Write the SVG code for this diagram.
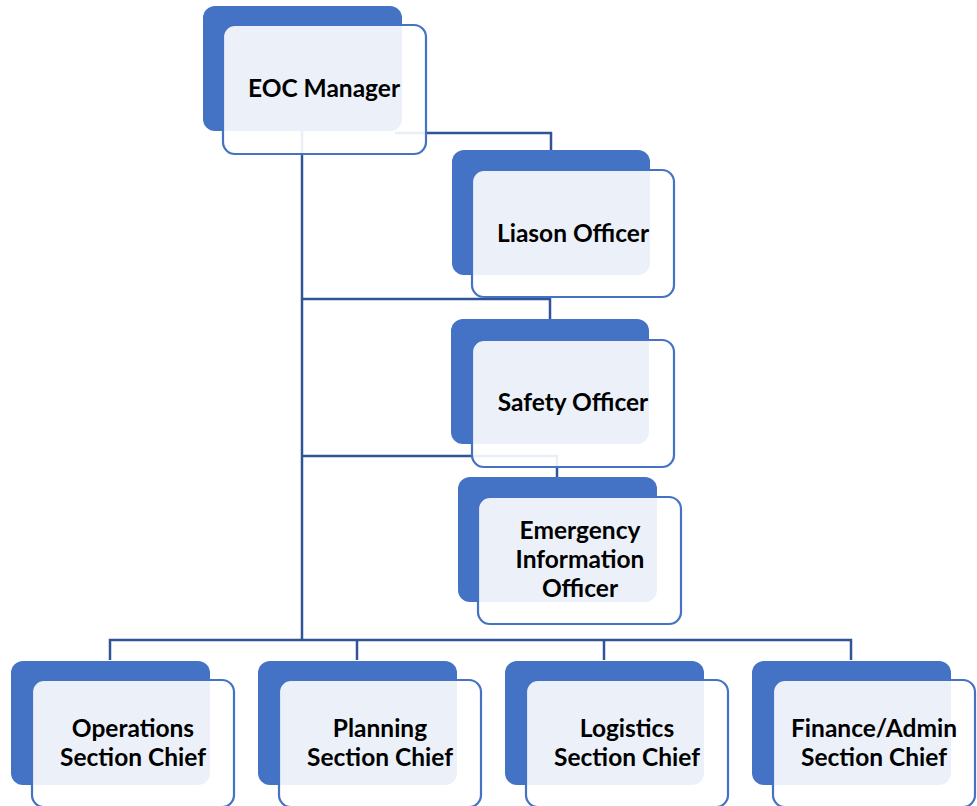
<svg xmlns="http://www.w3.org/2000/svg" width="977" height="806" viewBox="0 0 977 806">
<style>
.back{fill:#4472C4;}
.front{fill:#FFFFFF;fill-opacity:0.9;stroke:#4472C4;stroke-width:2.2;}
.conn{fill:none;stroke:#2F5597;stroke-width:2.5;}
.lbl{font-family:Lato,"Open Sans","Liberation Sans",sans-serif;font-weight:700;font-size:24.5px;fill:#000000;text-anchor:middle;}
</style>
<rect width="977" height="806" fill="#FFFFFF"/>
<g id="connectors">
<path class="conn" d="M302,131 V640"/>
<path class="conn" d="M395,133 H551 V150"/>
<path class="conn" d="M302,299 H550 V319"/>
<path class="conn" d="M302,456 H557 V477"/>
<path class="conn" d="M110,660 V640 H851 V660"/>
<path class="conn" d="M357,640 V660"/>
<path class="conn" d="M604,640 V660"/>
</g>
<g id="eoc-manager">
<rect class="back" x="203" y="6" width="199" height="125" rx="12"/>
<rect class="front" x="223" y="25" width="203" height="129" rx="12"/>
<text class="lbl" x="324" y="97">EOC Manager</text>
</g>
<g id="liason-officer">
<rect class="back" x="452" y="150" width="198" height="125" rx="12"/>
<rect class="front" x="472" y="170" width="202" height="127" rx="12"/>
<text class="lbl" x="573" y="242">Liason Officer</text>
</g>
<g id="safety-officer">
<rect class="back" x="451" y="319" width="198" height="125" rx="12"/>
<rect class="front" x="472" y="340" width="202" height="127" rx="12"/>
<text class="lbl" x="573" y="411">Safety Officer</text>
</g>
<g id="emergency-information-officer">
<rect class="back" x="458" y="477" width="199" height="125" rx="12"/>
<rect class="front" x="478" y="497" width="203" height="127" rx="12"/>
<text class="lbl" x="580" y="539">Emergency</text>
<text class="lbl" x="580" y="568">Information</text>
<text class="lbl" x="580" y="597">Officer</text>
</g>
<g id="operations-section-chief">
<rect class="back" x="11" y="661" width="199" height="124" rx="12"/>
<rect class="front" x="32" y="680" width="202" height="127" rx="12"/>
<text class="lbl" x="133" y="737">Operations</text>
<text class="lbl" x="133" y="766">Section Chief</text>
</g>
<g id="planning-section-chief">
<rect class="back" x="258" y="661" width="199" height="124" rx="12"/>
<rect class="front" x="279" y="680" width="202" height="127" rx="12"/>
<text class="lbl" x="380" y="737">Planning</text>
<text class="lbl" x="380" y="766">Section Chief</text>
</g>
<g id="logistics-section-chief">
<rect class="back" x="505" y="661" width="199" height="124" rx="12"/>
<rect class="front" x="526" y="680" width="202" height="127" rx="12"/>
<text class="lbl" x="627" y="737">Logistics</text>
<text class="lbl" x="627" y="766">Section Chief</text>
</g>
<g id="finance-admin-section-chief">
<rect class="back" x="752" y="661" width="199" height="124" rx="12"/>
<rect class="front" x="773" y="680" width="202" height="127" rx="12"/>
<text class="lbl" x="874" y="737">Finance/Admin</text>
<text class="lbl" x="874" y="766">Section Chief</text>
</g>
</svg>
